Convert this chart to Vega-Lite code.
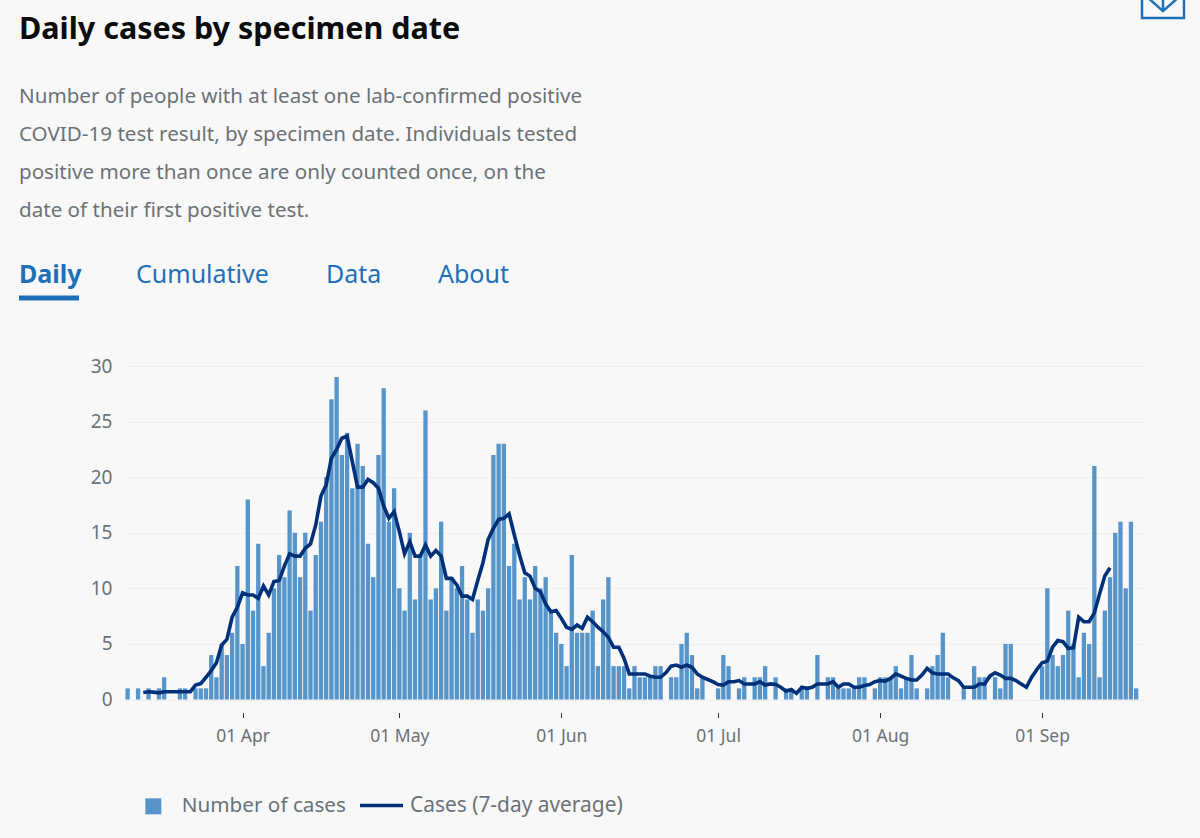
{"$schema":"https://vega.github.io/schema/vega-lite/v6.json","width":1019,"height":333.5,"autosize":"none","padding":{"left":125,"top":366,"right":56,"bottom":138.5},"background":"#f8f8f8","config":{"view":{"stroke":null},"font":"Noto Sans"},
"title":{"text":"Daily cases by specimen date","subtitle":["Number of people with at least one lab-confirmed positive","COVID-19 test result, by specimen date. Individuals tested","positive more than once are only counted once, on the","date of their first positive test."],"anchor":"start","frame":"group","dx":-106,"offset":-251,"font":"Noto Sans","fontSize":30.5,"fontWeight":"bold","color":"#0b0c0c","subtitleFont":"Noto Sans","subtitleFontSize":20.6,"subtitleColor":"#6b7276","subtitleLineHeight":38.3,"subtitlePadding":41},
"datasets":{"daily":[
{"date":"2020-03-10","cases":1},{"date":"2020-03-11","cases":0},{"date":"2020-03-12","cases":1},{"date":"2020-03-13","cases":0,"avg":0.63},{"date":"2020-03-14","cases":1,"avg":0.7},{"date":"2020-03-15","cases":0,"avg":0.66},{"date":"2020-03-16","cases":1,"avg":0.6},{"date":"2020-03-17","cases":2,"avg":0.7},{"date":"2020-03-18","cases":0,"avg":0.7},{"date":"2020-03-19","cases":0,"avg":0.7},{"date":"2020-03-20","cases":1,"avg":0.7},{"date":"2020-03-21","cases":1,"avg":0.7},{"date":"2020-03-22","cases":0,"avg":0.7},{"date":"2020-03-23","cases":1,"avg":1.3},{"date":"2020-03-24","cases":1,"avg":1.43},{"date":"2020-03-25","cases":1,"avg":2.0},{"date":"2020-03-26","cases":4,"avg":2.6},{"date":"2020-03-27","cases":2,"avg":3.3},{"date":"2020-03-28","cases":5,"avg":4.9},{"date":"2020-03-29","cases":4,"avg":5.4},{"date":"2020-03-30","cases":6,"avg":7.4},{"date":"2020-03-31","cases":12,"avg":8.3},
{"date":"2020-04-01","cases":5,"avg":9.6},{"date":"2020-04-02","cases":18,"avg":9.4},{"date":"2020-04-03","cases":8,"avg":9.4},{"date":"2020-04-04","cases":14,"avg":9.1},{"date":"2020-04-05","cases":3,"avg":10.2},{"date":"2020-04-06","cases":6,"avg":9.4},{"date":"2020-04-07","cases":10,"avg":10.6},{"date":"2020-04-08","cases":13,"avg":10.7},{"date":"2020-04-09","cases":11,"avg":12.0},{"date":"2020-04-10","cases":17,"avg":13.1},{"date":"2020-04-11","cases":15,"avg":12.9},{"date":"2020-04-12","cases":11,"avg":12.9},{"date":"2020-04-13","cases":15,"avg":13.6},{"date":"2020-04-14","cases":8,"avg":14.0},{"date":"2020-04-15","cases":13,"avg":15.7},{"date":"2020-04-16","cases":16,"avg":18.3},{"date":"2020-04-17","cases":20,"avg":19.3},{"date":"2020-04-18","cases":27,"avg":21.7},{"date":"2020-04-19","cases":29,"avg":22.5},{"date":"2020-04-20","cases":22,"avg":23.5},{"date":"2020-04-21","cases":24,"avg":23.7},{"date":"2020-04-22","cases":19,"avg":21.4},{"date":"2020-04-23","cases":23,"avg":19.1},{"date":"2020-04-24","cases":21,"avg":19.1},{"date":"2020-04-25","cases":14,"avg":19.8},{"date":"2020-04-26","cases":11,"avg":19.5},{"date":"2020-04-27","cases":22,"avg":19.0},{"date":"2020-04-28","cases":28,"avg":17.4},{"date":"2020-04-29","cases":16,"avg":16.3},{"date":"2020-04-30","cases":19,"avg":16.9},
{"date":"2020-05-01","cases":10,"avg":15.1},{"date":"2020-05-02","cases":8,"avg":13.1},{"date":"2020-05-03","cases":15,"avg":14.2},{"date":"2020-05-04","cases":9,"avg":12.9},{"date":"2020-05-05","cases":13,"avg":12.9},{"date":"2020-05-06","cases":26,"avg":13.9},{"date":"2020-05-07","cases":9,"avg":12.9},{"date":"2020-05-08","cases":10,"avg":13.4},{"date":"2020-05-09","cases":16,"avg":12.9},{"date":"2020-05-10","cases":8,"avg":10.9},{"date":"2020-05-11","cases":11,"avg":10.9},{"date":"2020-05-12","cases":10,"avg":10.3},{"date":"2020-05-13","cases":12,"avg":9.3},{"date":"2020-05-14","cases":9,"avg":9.3},{"date":"2020-05-15","cases":6,"avg":9.0},{"date":"2020-05-16","cases":9,"avg":10.7},{"date":"2020-05-17","cases":8,"avg":12.3},{"date":"2020-05-18","cases":10,"avg":14.4},{"date":"2020-05-19","cases":22,"avg":15.4},{"date":"2020-05-20","cases":23,"avg":16.2},{"date":"2020-05-21","cases":23,"avg":16.3},{"date":"2020-05-22","cases":12,"avg":16.7},{"date":"2020-05-23","cases":14,"avg":14.8},{"date":"2020-05-24","cases":9,"avg":13.0},{"date":"2020-05-25","cases":11,"avg":11.4},{"date":"2020-05-26","cases":9,"avg":11.1},{"date":"2020-05-27","cases":12,"avg":10.0},{"date":"2020-05-28","cases":10,"avg":9.7},{"date":"2020-05-29","cases":11,"avg":8.6},{"date":"2020-05-30","cases":8,"avg":7.9},{"date":"2020-05-31","cases":6,"avg":8.0},
{"date":"2020-06-01","cases":5,"avg":7.3},{"date":"2020-06-02","cases":3,"avg":6.5},{"date":"2020-06-03","cases":13,"avg":6.3},{"date":"2020-06-04","cases":6,"avg":6.7},{"date":"2020-06-05","cases":6,"avg":6.4},{"date":"2020-06-06","cases":6,"avg":7.4},{"date":"2020-06-07","cases":8,"avg":7.0},{"date":"2020-06-08","cases":3,"avg":6.5},{"date":"2020-06-09","cases":9,"avg":6.1},{"date":"2020-06-10","cases":11,"avg":5.6},{"date":"2020-06-11","cases":3,"avg":4.7},{"date":"2020-06-12","cases":3,"avg":4.7},{"date":"2020-06-13","cases":3,"avg":3.7},{"date":"2020-06-14","cases":1,"avg":2.3},{"date":"2020-06-15","cases":3,"avg":2.3},{"date":"2020-06-16","cases":2,"avg":2.3},{"date":"2020-06-17","cases":2,"avg":2.3},{"date":"2020-06-18","cases":2,"avg":2.1},{"date":"2020-06-19","cases":3,"avg":2.0},{"date":"2020-06-20","cases":3,"avg":2.0},{"date":"2020-06-21","cases":0,"avg":2.4},{"date":"2020-06-22","cases":2,"avg":3.0},{"date":"2020-06-23","cases":2,"avg":3.1},{"date":"2020-06-24","cases":5,"avg":2.9},{"date":"2020-06-25","cases":6,"avg":3.1},{"date":"2020-06-26","cases":4,"avg":2.9},{"date":"2020-06-27","cases":1,"avg":2.3},{"date":"2020-06-28","cases":2,"avg":2.0},{"date":"2020-06-29","cases":0,"avg":1.8},{"date":"2020-06-30","cases":0,"avg":1.6},
{"date":"2020-07-01","cases":1,"avg":1.35},{"date":"2020-07-02","cases":4,"avg":1.3},{"date":"2020-07-03","cases":3,"avg":1.6},{"date":"2020-07-04","cases":0,"avg":1.6},{"date":"2020-07-05","cases":1,"avg":1.7},{"date":"2020-07-06","cases":2,"avg":1.4},{"date":"2020-07-07","cases":0,"avg":1.4},{"date":"2020-07-08","cases":2,"avg":1.4},{"date":"2020-07-09","cases":2,"avg":1.6},{"date":"2020-07-10","cases":3,"avg":1.3},{"date":"2020-07-11","cases":0,"avg":1.4},{"date":"2020-07-12","cases":2,"avg":1.35},{"date":"2020-07-13","cases":0,"avg":1.1},{"date":"2020-07-14","cases":1,"avg":0.75},{"date":"2020-07-15","cases":1,"avg":0.9},{"date":"2020-07-16","cases":0,"avg":0.55},{"date":"2020-07-17","cases":1,"avg":1.1},{"date":"2020-07-18","cases":1,"avg":1.0},{"date":"2020-07-19","cases":0,"avg":1.1},{"date":"2020-07-20","cases":4,"avg":1.4},{"date":"2020-07-21","cases":0,"avg":1.4},{"date":"2020-07-22","cases":2,"avg":1.4},{"date":"2020-07-23","cases":2,"avg":1.6},{"date":"2020-07-24","cases":1,"avg":1.1},{"date":"2020-07-25","cases":1,"avg":1.4},{"date":"2020-07-26","cases":1,"avg":1.4},{"date":"2020-07-27","cases":1,"avg":1.1},{"date":"2020-07-28","cases":2,"avg":1.1},{"date":"2020-07-29","cases":2,"avg":1.25},{"date":"2020-07-30","cases":0,"avg":1.35},{"date":"2020-07-31","cases":1,"avg":1.6},
{"date":"2020-08-01","cases":2,"avg":1.7},{"date":"2020-08-02","cases":2,"avg":1.65},{"date":"2020-08-03","cases":2,"avg":1.9},{"date":"2020-08-04","cases":3,"avg":2.3},{"date":"2020-08-05","cases":1,"avg":2.1},{"date":"2020-08-06","cases":2,"avg":1.9},{"date":"2020-08-07","cases":4,"avg":1.75},{"date":"2020-08-08","cases":1,"avg":1.75},{"date":"2020-08-09","cases":0,"avg":2.2},{"date":"2020-08-10","cases":1,"avg":2.8},{"date":"2020-08-11","cases":3,"avg":2.4},{"date":"2020-08-12","cases":4,"avg":2.3},{"date":"2020-08-13","cases":6,"avg":2.3},{"date":"2020-08-14","cases":2,"avg":2.3},{"date":"2020-08-15","cases":0,"avg":1.95},{"date":"2020-08-16","cases":0,"avg":1.7},{"date":"2020-08-17","cases":1,"avg":1.1},{"date":"2020-08-18","cases":0,"avg":1.1},{"date":"2020-08-19","cases":3,"avg":1.1},{"date":"2020-08-20","cases":2,"avg":1.4},{"date":"2020-08-21","cases":2,"avg":1.4},{"date":"2020-08-22","cases":0,"avg":2.1},{"date":"2020-08-23","cases":2,"avg":2.4},{"date":"2020-08-24","cases":1,"avg":2.2},{"date":"2020-08-25","cases":5,"avg":1.9},{"date":"2020-08-26","cases":5,"avg":1.9},{"date":"2020-08-27","cases":0,"avg":1.7},{"date":"2020-08-28","cases":0,"avg":1.4},{"date":"2020-08-29","cases":0,"avg":1.1},{"date":"2020-08-30","cases":0,"avg":2.0},{"date":"2020-08-31","cases":0,"avg":2.7},
{"date":"2020-09-01","cases":3,"avg":3.3},{"date":"2020-09-02","cases":10,"avg":3.45},{"date":"2020-09-03","cases":4,"avg":4.7},{"date":"2020-09-04","cases":3,"avg":5.3},{"date":"2020-09-05","cases":4,"avg":5.2},{"date":"2020-09-06","cases":8,"avg":4.6},{"date":"2020-09-07","cases":5,"avg":4.65},{"date":"2020-09-08","cases":2,"avg":7.4},{"date":"2020-09-09","cases":6,"avg":7.0},{"date":"2020-09-10","cases":5,"avg":7.0},{"date":"2020-09-11","cases":21,"avg":7.8},{"date":"2020-09-12","cases":2,"avg":9.5},{"date":"2020-09-13","cases":8,"avg":11.1},{"date":"2020-09-14","cases":11,"avg":11.85},{"date":"2020-09-15","cases":15},{"date":"2020-09-16","cases":16},{"date":"2020-09-17","cases":10},{"date":"2020-09-18","cases":16},{"date":"2020-09-19","cases":1}
],"tabs":[{"tab":"Daily","order":0,"row":0},{"tab":"Cumulative","order":1,"row":0},{"tab":"Data","order":2,"row":0},{"tab":"About","order":3,"row":0}],"underline":[{"tab":"Daily","order":0,"end":0.513,"row":1}],"icon":[{"item":"Download","order":4,"row":-1}]},
"resolve":{"scale":{"x":"independent","y":"independent"}},
"layer":[
{"data":{"name":"daily"},
"encoding":{"x":{"field":"date","type":"temporal","title":null,"scale":{"type":"utc","padding":0,"domain":[{"year":2020,"month":3,"date":9,"hours":12,"utc":true},{"year":2020,"month":9,"date":20,"hours":12,"utc":true}],"nice":false},"axis":{"values":[{"year":2020,"month":4,"date":1,"utc":true},{"year":2020,"month":5,"date":1,"utc":true},{"year":2020,"month":6,"date":1,"utc":true},{"year":2020,"month":7,"date":1,"utc":true},{"year":2020,"month":8,"date":1,"utc":true},{"year":2020,"month":9,"date":1,"utc":true}],"format":"%d %b","domain":false,"grid":false,"offset":13,"tickSize":5,"tickColor":"#333333","tickWidth":1,"labelFontSize":17.5,"labelColor":"#6b7276","labelPadding":10,"labelFont":"Noto Sans"}}},
"layer":[
{"mark":{"type":"bar","size":4.3},"encoding":{"y":{"field":"cases","type":"quantitative","title":null,"scale":{"domain":[0,30],"nice":false},"axis":{"values":[0,5,10,15,20,25,30],"domain":false,"ticks":false,"gridColor":"#eeeeee","grid":true,"labelFontSize":19,"labelColor":"#6b7276","labelPadding":13,"labelFont":"Noto Sans"}},"fill":{"datum":"Number of cases","scale":{"range":["#5694ca"]},"legend":{"title":null,"orient":"none","legendX":18,"legendY":430,"symbolType":"square","symbolSize":256,"symbolOpacity":1,"labelFontSize":20.7,"labelColor":"#6b7276","labelOffset":18,"labelLimit":400,"labelFont":"Noto Sans"}}}},
{"mark":{"type":"rule","color":"#333333","strokeWidth":1},"encoding":{"y":{"datum":0}}},
{"mark":{"type":"line","strokeWidth":3.6,"interpolate":"linear"},"encoding":{"y":{"field":"avg","type":"quantitative"},"stroke":{"datum":"Cases (7-day average)","scale":{"range":["#003078"]},"legend":{"title":null,"orient":"none","legendX":233,"legendY":416,"symbolType":"stroke","symbolSize":1849,"symbolStrokeWidth":3.6,"labelFontSize":20.9,"labelColor":"#6b7276","labelOffset":5,"labelLimit":400,"labelFont":"Noto Sans"}}}}
]},
{"encoding":{"x":{"field":"order","type":"quantitative","axis":null,"scale":{"domain":[0,1,2,3,4],"range":[-106,11,201,313,1038],"zero":false,"nice":false}},"y":{"field":"row","type":"quantitative","axis":null,"scale":{"domain":[-1,0,1],"range":[-369,-91,-68],"zero":false,"nice":false}}},
"layer":[
{"data":{"name":"tabs"},"mark":{"type":"text","align":"left","baseline":"middle","fontSize":25,"font":"Noto Sans","color":"#1d70b8","fontWeight":{"expr":"datum.tab === 'Daily' ? 'bold' : 'normal'"}},"encoding":{"text":{"field":"tab"}}},
{"data":{"name":"underline"},"mark":{"type":"rule","color":"#1d70b8","strokeWidth":5},"encoding":{"x2":{"field":"end"}}},
{"data":{"name":"icon"},"mark":{"type":"point","shape":"M-1,-1H1V1H-1ZM-0.7,0.05L0,0.67L0.7,0.05M0,0.67V-1","size":1764,"filled":false,"stroke":"#1d70b8","strokeWidth":2.5,"opacity":1}}
]}
]}
